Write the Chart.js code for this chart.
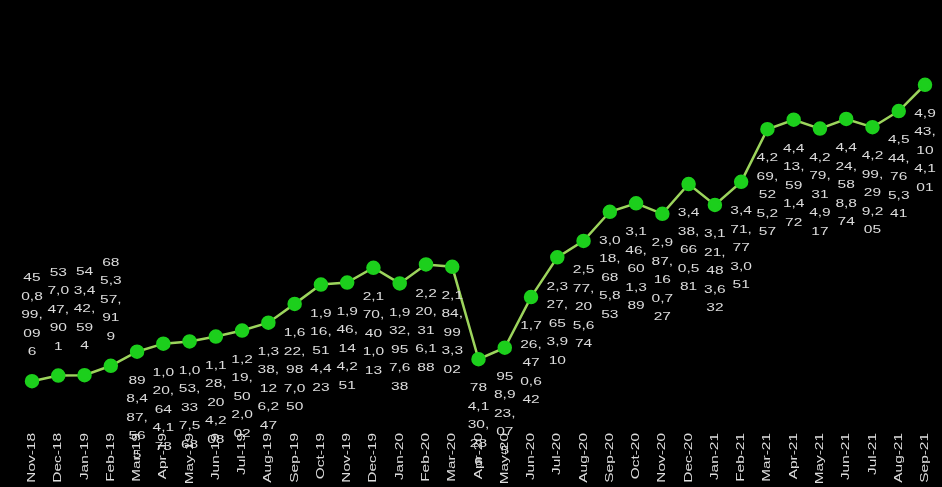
<!DOCTYPE html>
<html>
<head>
<meta charset="utf-8">
<script src="https://cdn.jsdelivr.net/npm/chart.js@4"></script>
<style>
  html, body { margin: 0; padding: 0; background: #000; }
  #wrap { width: 942px; height: 487px; }
</style>
</head>
<body>
<div id="wrap"><canvas id="chart"></canvas></div>
<script>
const months = ["Nov-18", "Dec-18", "Jan-19", "Feb-19", "Mar-19", "Apr-19", "May-19", "Jun-19", "Jul-19",
    "Aug-19", "Sep-19", "Oct-19", "Nov-19", "Dec-19", "Jan-20", "Feb-20", "Mar-20", "Apr-20", "May-20",
    "Jun-20", "Jul-20", "Aug-20", "Sep-20", "Oct-20", "Nov-20", "Dec-20", "Jan-21", "Feb-21", "Mar-21",
    "Apr-21", "May-21", "Jun-21", "Jul-21", "Aug-21", "Sep-21"];

const totals = [450899096, 537047901, 543442594, 685357919, 898487565, 1020644173, 1053337568, 1128204208,
    1219502002, 1338126247, 1622987050, 1916514423, 1946144251, 2170401013, 1932957638, 2220316188,
    2184993302, 784130286, 958923075, 1726470642, 2327653910, 2577205674, 3018685853, 3146601389,
    2987160727, 3438660581, 3121483632, 3471773051, 4269525257, 4413591472, 4279314917, 4424588874,
    4299299205, 4544765341, 4943104101];

const yMin = 0;
const yMax = 6000000000;

const labelFont = "11.5px 'Liberation Sans', Arial, sans-serif";
const tickFont = "11px 'Liberation Sans', Arial, sans-serif";
const textColor = "#dcdcdc";

// break a number string into narrow lines, char by char
function wrapNumber(ctx, str, maxWidth) {
    const lines = [];
    let cur = "";
    for (const ch of str) {
        if (cur && ctx.measureText(cur + ch).width > maxWidth) {
            lines.push(cur);
            cur = ch;
        } else {
            cur += ch;
        }
    }
    if (cur) lines.push(cur);
    return lines;
}

const customText = {
    id: "customText",
    afterDatasetsDraw(chart) {
        const ctx = chart.ctx;
        const area = chart.chartArea;
        const meta = chart.getDatasetMeta(0);
        const lineH = 18.5;

        ctx.save();
        ctx.fillStyle = textColor;
        ctx.font = labelFont;
        ctx.textAlign = "center";
        ctx.textBaseline = "middle";
        meta.data.forEach((pt, i) => {
            const str = totals[i].toLocaleString("en-US");
            const lines = wrapNumber(ctx, str, 11.5 * 1.5);
            let firstY = pt.y + 29;
            const lastY = firstY + (lines.length - 1) * lineH;
            if (lastY > area.bottom + 55) {
                firstY = pt.y - 29 - (lines.length - 1) * lineH;
            }
            lines.forEach((ln, j) => {
                ctx.save();
                ctx.translate(pt.x, firstY + j * lineH);
                ctx.scale(1.35, 1);
                ctx.fillText(ln, 0, 0);
                ctx.restore();
            });
        });
        ctx.restore();

        // x axis labels, rotated
        const xScale = chart.scales.x;
        ctx.save();
        ctx.fillStyle = textColor;
        ctx.font = tickFont;
        ctx.textAlign = "right";
        ctx.textBaseline = "middle";
        months.forEach((m, i) => {
            ctx.save();
            ctx.translate(xScale.getPixelForValue(i), area.bottom + 22);
            ctx.rotate(-Math.PI / 2);
            ctx.scale(1.4, 1);
            ctx.fillText(m, 0, 0);
            ctx.restore();
        });
        ctx.restore();
    }
};

new Chart(document.getElementById("chart"), {
    type: "line",
    data: {
        labels: months,
        datasets: [{
            data: totals,
            borderColor: "#9cd45c",
            borderWidth: 2.5,
            pointBackgroundColor: "#1ccf1c",
            pointBorderColor: "#1ccf1c",
            pointRadius: 6,
            tension: 0
        }]
    },
    options: {
        responsive: true,
        maintainAspectRatio: false,
        animation: false,
        layout: { padding: { left: 32, right: 17, top: 15, bottom: 76 } },
        plugins: {
            legend: { display: false },
            tooltip: { enabled: false }
        },
        scales: {
            x: { display: false },
            y: { display: false, min: yMin, max: yMax }
        }
    },
    plugins: [customText]
});
</script>
</body>
</html>
